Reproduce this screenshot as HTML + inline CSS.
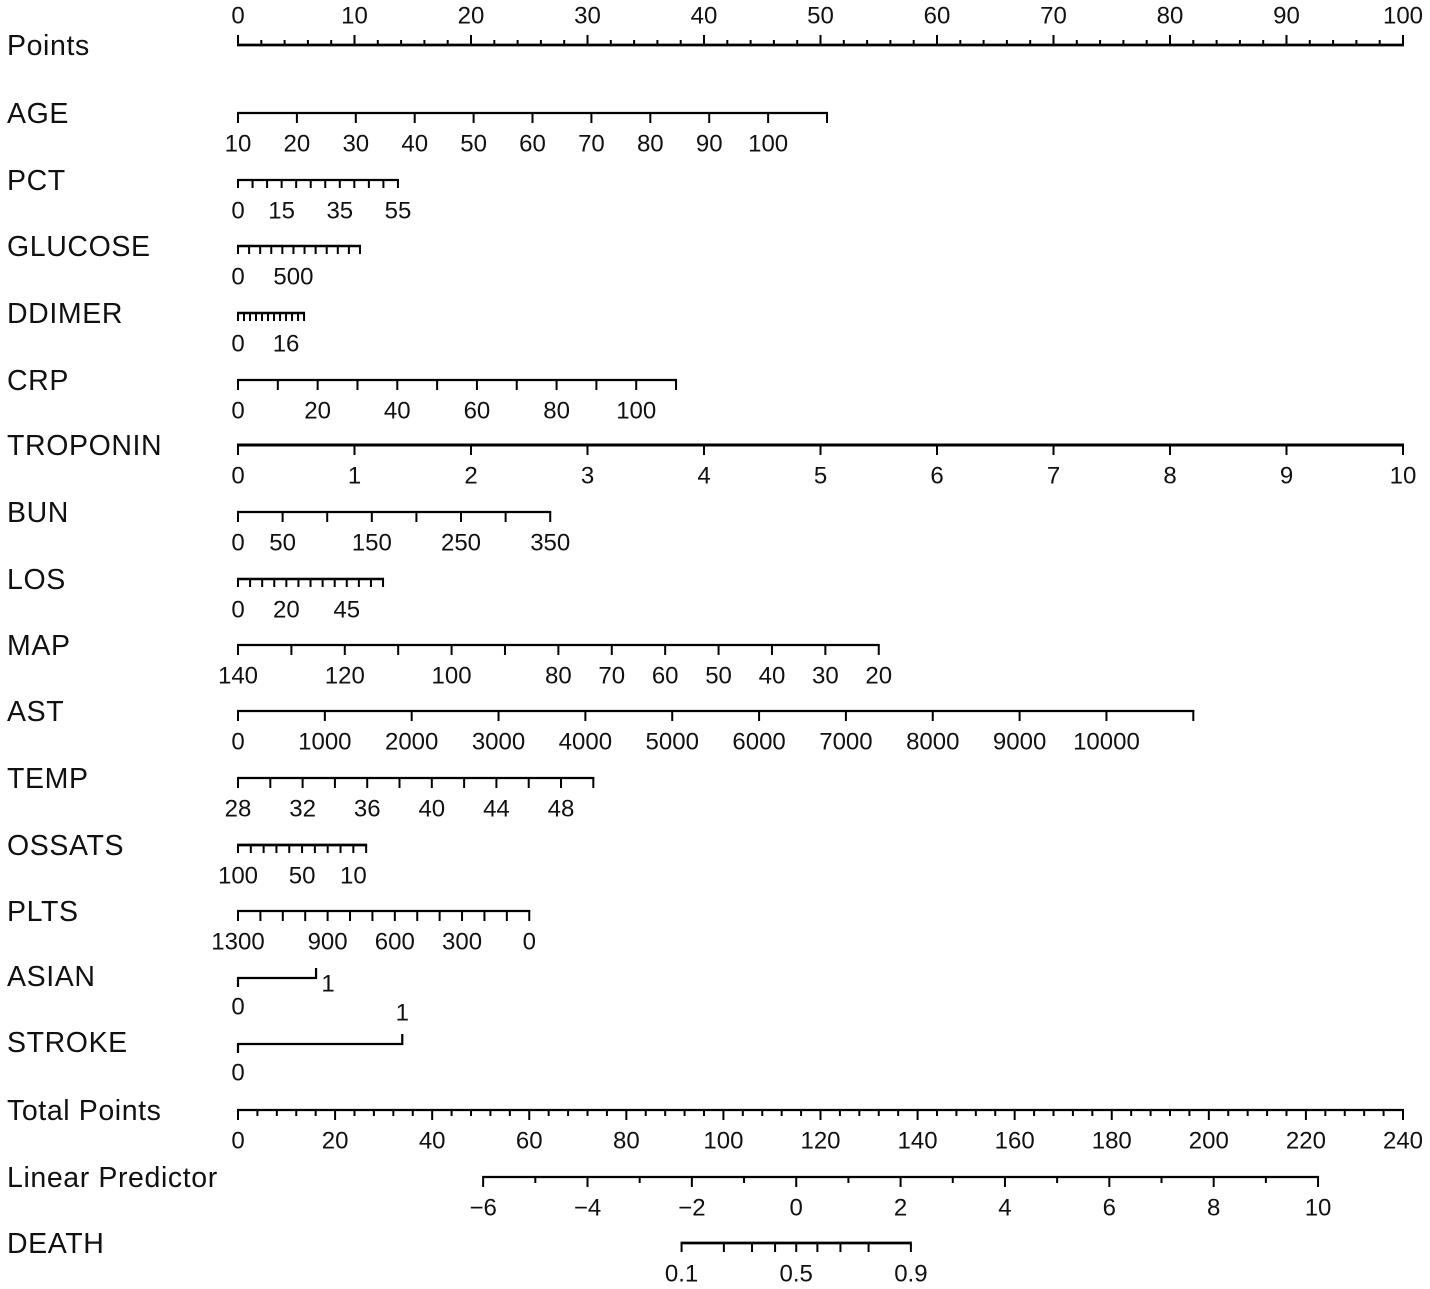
<!DOCTYPE html>
<html><head><meta charset="utf-8"><style>
html,body{margin:0;padding:0;background:#fff;}
svg{display:block;font-family:"Liberation Sans",sans-serif;}
</style></head><body>
<svg id="nomo" width="1430" height="1289" viewBox="0 0 1430 1289"></svg>
<script>
// ---- data ----
const pointsTicks=[];for(let v=0;v<=100;v+=2)pointsTicks.push(v);
const pointsLabels=[0,10,20,30,40,50,60,70,80,90,100];
const ageRange=[10,110];const agePts=[0,50.56];const ageTicks=[10,20,30,40,50,60,70,80,90,100,110];const ageLabels=[10,20,30,40,50,60,70,80,90,100];
const pctRange=[0,55];const pctPts=[0,13.73];const pctTicks=[0,5,10,15,20,25,30,35,40,45,50,55];const pctLabels=[0,15,35,55];
const gluRange=[0,1100];const gluPts=[0,10.47];const gluTicks=[0,100,200,300,400,500,600,700,800,900,1000,1100];const gluLabels=[0,500];
const ddRange=[0,22];const ddPts=[0,5.67];const ddTicks=[0,2,4,6,8,10,12,14,16,18,20,22];const ddLabels=[0,16];
const crpRange=[0,110];const crpPts=[0,37.6];const crpTicks=[0,10,20,30,40,50,60,70,80,90,100,110];const crpLabels=[0,20,40,60,80,100];
const tropRange=[0,10];const tropPts=[0,100];const tropTicks=[0,1,2,3,4,5,6,7,8,9,10];const tropLabels=[0,1,2,3,4,5,6,7,8,9,10];
const bunRange=[0,350];const bunPts=[0,26.8];const bunTicks=[0,50,100,150,200,250,300,350];const bunLabels=[0,50,150,250,350];
const losRange=[0,60];const losPts=[0,12.45];const losTicks=[0,5,10,15,20,25,30,35,40,45,50,55,60];const losLabels=[0,20,45];
const mapRange=[140,20];const mapPts=[0,55.0];const mapTicks=[140,130,120,110,100,90,80,70,60,50,40,30,20];const mapLabels=[140,120,100,80,70,60,50,40,30,20];
const astRange=[0,11000];const astPts=[0,82.0];const astTicks=[0,1000,2000,3000,4000,5000,6000,7000,8000,9000,10000,11000];const astLabels=[0,1000,2000,3000,4000,5000,6000,7000,8000,9000,10000];
const tempRange=[28,50];const tempPts=[0,30.5];const tempTicks=[28,30,32,34,36,38,40,42,44,46,48,50];const tempLabels=[28,32,36,40,44,48];
const ossRange=[100,0];const ossPts=[0,11.0];const ossTicks=[100,90,80,70,60,50,40,30,20,10,0];const ossLabels=[100,50,10];
const pltRange=[1300,0];const pltPts=[0,25.0];const pltTicks=[1300,1200,1100,1000,900,800,700,600,500,400,300,200,100,0];const pltLabels=[1300,900,600,300,0];
const asianPts=[0,6.7];const strokePts=[0,14.1];
const totalTicks=[];for(let v=0;v<=240;v+=4)totalTicks.push(v);
const totalLabels=[0,20,40,60,80,100,120,140,160,180,200,220,240];
const lpRange=[-6,10];const lpTotal=[50.5,222.5];
const lpTicks=[-6,-5,-4,-3,-2,-1,0,1,2,3,4,5,6,7,8,9,10];const lpLabels=[-6,-4,-2,0,2,4,6,8,10];
const deathTicks=[0.1,0.2,0.3,0.4,0.5,0.6,0.7,0.8,0.9];const deathLabels=[0.1,0.5,0.9];

// ---- scales ----
const X0=238,X1=1403;
const xPts=p=>X0+p*(X1-X0)/100;
const xTot=t=>X0+t*(X1-X0)/240;
const lin=(range,pts)=>v=>xPts(pts[0]+(v-range[0])/(range[1]-range[0])*(pts[1]-pts[0]));
const xLP=v=>xTot(lpTotal[0]+(v-lpRange[0])/(lpRange[1]-lpRange[0])*(lpTotal[1]-lpTotal[0]));
const xDeath=p=>xLP(Math.log(p/(1-p)));

const svg=document.getElementById('nomo');
const NS='http://www.w3.org/2000/svg';
const TITLE_SIZE=28.5, TICK_SIZE=24;
function mk(tag,attrs,parent){const e=document.createElementNS(NS,tag);for(const k in attrs)e.setAttribute(k,attrs[k]);(parent||svg).appendChild(e);return e;}
function label(txt,x,y,size,anchor,parent,name,ls){const t=mk('text',{x:x,y:y,'font-size':size,'text-anchor':anchor,'dominant-baseline':'central',fill:'#111'},parent);t.textContent=txt;
if(ls)t.setAttribute('letter-spacing',ls);


return t;}

function row(name,title,y,ticks,labels,fx,opt){
  opt=opt||{};
  const g=mk('g',{});
  
  
  label(title,7,y+1,TITLE_SIZE,'start',g,name+'-title',0.6);
  const sw=opt.sw||2.2;
  const xa=fx(ticks[0]),xb=fx(ticks[ticks.length-1]);
  const ln=mk('line',{x1:Math.min(xa,xb)-1,x2:Math.max(xa,xb)+1,y1:y,y2:y,stroke:'#000','stroke-width':sw},g);
  
  
  const dir=opt.up?-1:1;
  ticks.forEach(v=>{
    const isMaj=opt.major?opt.major(v):true;
    const len=isMaj?(opt.majLen||10):(opt.minLen||6);
    const tk=mk('line',{x1:fx(v),x2:fx(v),y1:y,y2:y+dir*len,stroke:'#000','stroke-width':2},g);
    
    
  });
  labels.forEach(v=>{
    label(String(v).replace('-','\u2212'),fx(v),opt.up?y-29:y+31,TICK_SIZE,'middle',g,name+'-tick-label');
  });
}

row('points','Points',45,pointsTicks,pointsLabels,xPts,{up:true,sw:2.8,major:v=>v%10===0,majLen:10,minLen:5});
row('age','AGE',113,ageTicks,ageLabels,lin(ageRange,agePts));
row('pct','PCT',180,pctTicks,pctLabels,lin(pctRange,pctPts),{majLen:8});
row('glucose','GLUCOSE',246,gluTicks,gluLabels,lin(gluRange,gluPts),{majLen:8,sw:2.6});
row('ddimer','DDIMER',313,ddTicks,ddLabels,lin(ddRange,ddPts),{majLen:8,sw:2.6});
row('crp','CRP',380,crpTicks,crpLabels,lin(crpRange,crpPts));
row('troponin','TROPONIN',445,tropTicks,tropLabels,lin(tropRange,tropPts),{sw:3});
row('bun','BUN',512,bunTicks,bunLabels,lin(bunRange,bunPts));
row('los','LOS',579,losTicks,losLabels,lin(losRange,losPts),{majLen:8,sw:2.6});
row('map','MAP',645,mapTicks,mapLabels,lin(mapRange,mapPts));
row('ast','AST',711,astTicks,astLabels,lin(astRange,astPts));
row('temp','TEMP',778,tempTicks,tempLabels,lin(tempRange,tempPts));
row('ossats','OSSATS',845,ossTicks,ossLabels,lin(ossRange,ossPts),{majLen:8,sw:2.8});
row('plts','PLTS',911,pltTicks,pltLabels,lin(pltRange,pltPts));

// binary rows
function binRow(name,title,y,pts,oneLabelDy,oneLabelDx){
  const g=mk('g',{});
  
  
  label(title,7,y-1,TITLE_SIZE,'start',g,name+'-title',0.6);
  const xa=xPts(pts[0]),xb=xPts(pts[1]);
  const p=mk('polyline',{points:`${xa},${y+9} ${xa},${y} ${xb},${y} ${xb},${y-10}`,fill:'none',stroke:'#000','stroke-width':2.2},g);
  
  
  label('0',xa,y+29,TICK_SIZE,'middle',g,name+'-label-0');
  label('1',xb+oneLabelDx,y+oneLabelDy,TICK_SIZE,'middle',g,name+'-label-1');
}
binRow('asian','ASIAN',978,asianPts,6,12);
binRow('stroke','STROKE',1044,strokePts,-31,0);

row('total-points','Total Points',1110,totalTicks,totalLabels,xTot,{major:v=>v%20===0,majLen:10,minLen:6});
row('linear-predictor','Linear Predictor',1177,lpTicks,lpLabels,xLP,{major:v=>v%2===0,majLen:10,minLen:6});
row('death','DEATH',1243,deathTicks,deathLabels,xDeath,{majLen:9,sw:2.8});
</script>
</body></html>
